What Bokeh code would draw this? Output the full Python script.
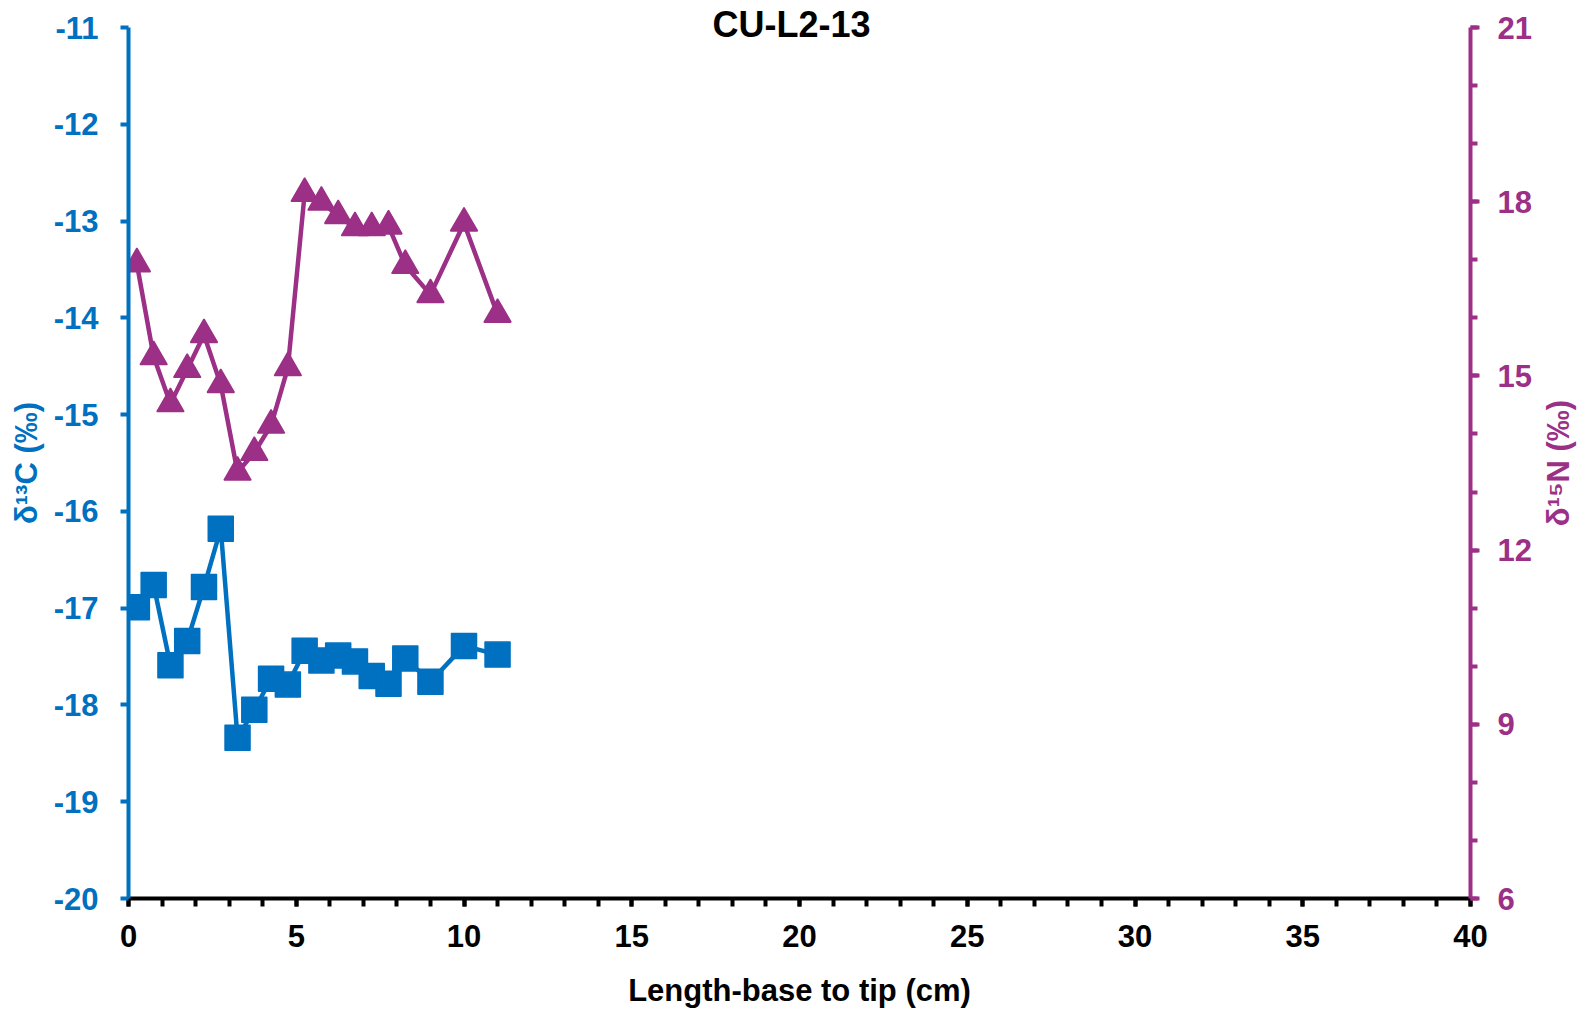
from bokeh.plotting import figure
from bokeh.layouts import row
from bokeh.models import (Range1d, LinearAxis, SingleIntervalTicker, Label,
                          ColumnDataSource, PrintfTickFormatter)
from bokeh.embed import file_html
from bokeh.resources import INLINE

# ---- data ----
length_cm = [0.25, 0.75, 1.25, 1.75, 2.25, 2.75, 3.25, 3.75, 4.25, 4.75,
             5.25, 5.75, 6.25, 6.75, 7.25, 7.75, 8.25, 9.0, 10.0, 11.0]
d13c = [-16.99, -16.76, -17.59, -17.34, -16.78, -16.18, -18.34, -18.05, -17.73, -17.79,
        -17.44, -17.54, -17.49, -17.55, -17.70, -17.78, -17.52, -17.76, -17.39, -17.48]
d15n = [16.93, 15.33, 14.52, 15.11, 15.71, 14.85, 13.34, 13.68, 14.15, 15.14,
        18.14, 17.99, 17.76, 17.55, 17.55, 17.58, 16.90, 16.40, 17.63, 16.06]

title_text = "CU-L2-13"
x_label = "Length-base to tip (cm)"
c_label = "δ¹³C (‰)"
n_label = "δ¹⁵N (‰)"

X_MIN, X_MAX = 0, 40
C_MIN, C_MAX = -20, -11
N_MIN, N_MAX = 6, 21

BLUE = "#0070C0"
PURPLE = "#9B3086"
FONT = "Liberation Sans"
H = 1012
BOTTOM = 114
FRAME_H = H - BOTTOM

# frame spans the full top; axes are bounded so the rule stops at the top tick
AXIS_PX = 871.0
TOP_PAD_PX = 27.0
pad_frac = TOP_PAD_PX / AXIS_PX
AXIS_MID_PX = TOP_PAD_PX + AXIS_PX / 2

src = ColumnDataSource(dict(x=length_cm, c=d13c, n=d15n))


def label_strip(width, text, color, center_px):
    """Narrow figure (pixel-mapped ranges) holding a vertical axis title."""
    f = figure(width=width, height=H, output_backend="svg", toolbar_location=None,
               x_range=Range1d(0, width), y_range=Range1d(FRAME_H, 0),
               x_axis_location=None, y_axis_location=None,
               min_border_left=0, min_border_right=0,
               min_border_top=0, min_border_bottom=BOTTOM)
    f.outline_line_color = None
    f.grid.visible = False
    f.border_fill_color = None
    f.background_fill_color = None
    f.add_layout(Label(x=center_px, y=AXIS_MID_PX, text=text, angle=90, angle_units="deg",
                       text_align="center", text_baseline="middle", text_font=FONT,
                       text_font_style="bold", text_font_size="31px", text_color=color))
    return f


p = figure(width=1490, height=H, output_backend="svg", toolbar_location=None,
           x_range=Range1d(X_MIN, X_MAX),
           y_range=Range1d(C_MIN, C_MAX + (C_MAX - C_MIN) * pad_frac),
           min_border_left=77, min_border_right=70, min_border_top=0, min_border_bottom=BOTTOM)
p.extra_y_ranges = {"n": Range1d(N_MIN, N_MAX + (N_MAX - N_MIN) * pad_frac)}
p.outline_line_color = None
p.grid.visible = False
p.background_fill_color = "white"
p.border_fill_color = "white"

# x axis
xa = p.xaxis[0]
xa.ticker = SingleIntervalTicker(interval=5, num_minor_ticks=5)
xa.formatter = PrintfTickFormatter(format="%d")
xa.axis_line_color = "black"
xa.axis_line_width = 4
xa.major_tick_line_color = "black"
xa.major_tick_line_width = 4
xa.major_tick_in = 0
xa.major_tick_out = 8
xa.minor_tick_line_color = "black"
xa.minor_tick_line_width = 4
xa.minor_tick_in = 0
xa.minor_tick_out = 8
xa.major_label_text_font = FONT
xa.major_label_text_font_style = "bold"
xa.major_label_text_font_size = "31px"
xa.major_label_text_color = "black"
xa.major_label_standoff = 18
xa.axis_label = x_label
xa.axis_label_text_font = FONT
xa.axis_label_text_font_style = "bold"
xa.axis_label_text_font_size = "31px"
xa.axis_label_text_color = "black"
xa.axis_label_standoff = 23

# left axis
ya = p.yaxis[0]
ya.bounds = (C_MIN, C_MAX)
ya.ticker = SingleIntervalTicker(interval=1, num_minor_ticks=0)
ya.formatter = PrintfTickFormatter(format="%d")
ya.axis_line_color = BLUE
ya.axis_line_width = 4
ya.major_tick_line_color = BLUE
ya.major_tick_line_width = 4
ya.major_tick_in = 0
ya.major_tick_out = 8
ya.minor_tick_out = 0
ya.minor_tick_in = 0
ya.major_label_text_font = FONT
ya.major_label_text_font_style = "bold"
ya.major_label_text_font_size = "31px"
ya.major_label_text_color = BLUE
ya.major_label_standoff = 22

# right axis
ra = LinearAxis(y_range_name="n")
ra.bounds = (N_MIN, N_MAX)
ra.ticker = SingleIntervalTicker(interval=3, num_minor_ticks=3)
ra.formatter = PrintfTickFormatter(format="%d")
ra.axis_line_color = PURPLE
ra.axis_line_width = 4
ra.major_tick_line_color = PURPLE
ra.major_tick_line_width = 4
ra.major_tick_in = 0
ra.major_tick_out = 9
ra.minor_tick_line_color = PURPLE
ra.minor_tick_line_width = 4
ra.minor_tick_in = 0
ra.minor_tick_out = 7
ra.major_label_text_font = FONT
ra.major_label_text_font_style = "bold"
ra.major_label_text_font_size = "31px"
ra.major_label_text_color = PURPLE
ra.major_label_standoff = 18
p.add_layout(ra, "right")

# series
p.line("x", "n", source=src, y_range_name="n", line_color=PURPLE, line_width=4.5)
p.scatter("x", "n", source=src, y_range_name="n", marker="triangle", size=27,
          fill_color=PURPLE, line_color=PURPLE, line_width=1.5)
p.line("x", "c", source=src, line_color=BLUE, line_width=4.5)
p.scatter("x", "c", source=src, marker="square", size=25,
          fill_color=BLUE, line_color=BLUE, line_width=1.5, line_join="round")

# title
p.add_layout(Label(x=(X_MIN + X_MAX) / 2, y=C_MAX, text=title_text, text_align="center",
                   text_baseline="middle", x_offset=-8, y_offset=3, text_font=FONT,
                   text_font_style="bold", text_font_size="36px", text_color="black"))

left_strip = label_strip(50, c_label, BLUE, 26)
right_strip = label_strip(49, n_label, PURPLE, 18)

layout = row(left_strip, p, right_strip)
open("out.html", "w").write(file_html(layout, INLINE))
